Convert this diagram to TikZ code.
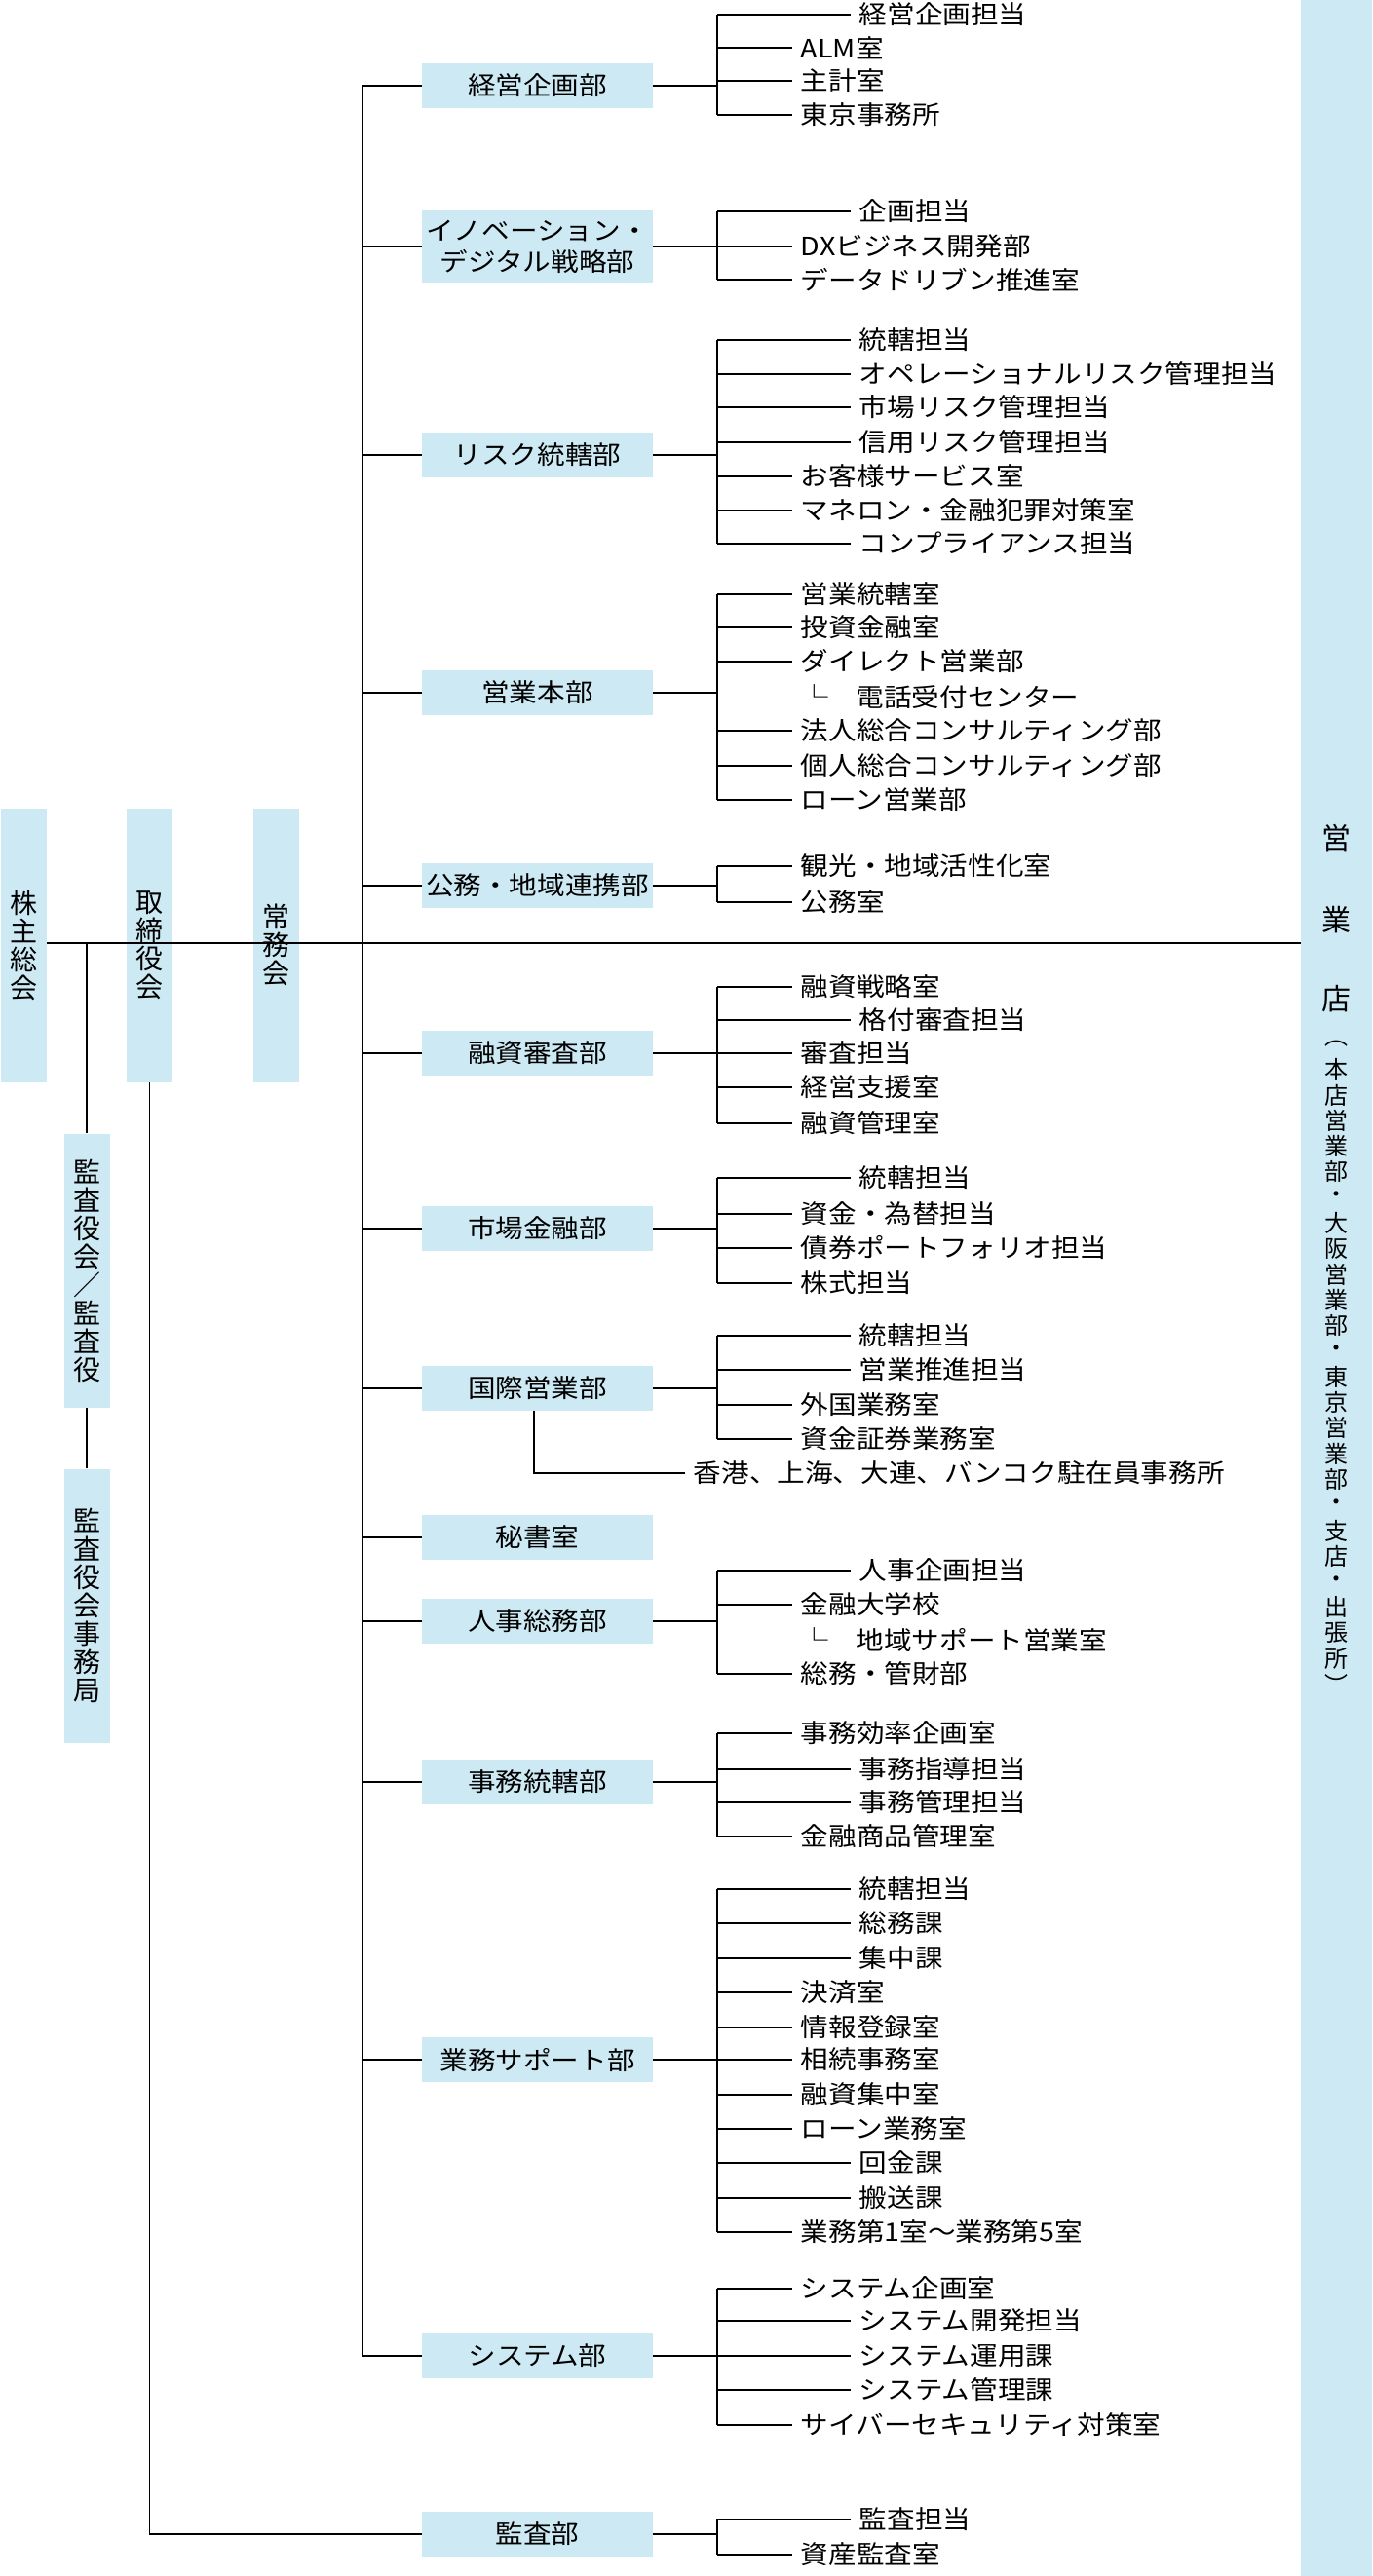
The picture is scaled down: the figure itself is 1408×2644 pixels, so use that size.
\documentclass[tikz,border=0pt]{standalone}
\usepackage{fontspec}
\setmainfont[FakeStretch=1.1]{Noto Sans CJK JP}
\newfontfamily\jpv{Noto Sans CJK JP}
\definecolor{boxblue}{HTML}{CDEAF4}
\tikzset{
  dept/.style={fill=boxblue, minimum width=118.5pt, minimum height=23pt, inner sep=0pt, align=center, font=\fontsize{13}{16}\selectfont},
  vbox/.style={fill=boxblue, minimum width=23.5pt, minimum height=140.5pt, inner sep=0pt},
  vtext/.style={align=center, inner sep=0pt, font=\jpv\fontsize{14}{14.5}\selectfont},
  item/.style={anchor=west, inner xsep=4pt, inner ysep=0pt, font=\fontsize{13}{15}\selectfont},
  conn/.style={line width=0.9pt}
}
% sub-units of one department: node, first y, last y, y/indent/text
\newcommand\branch[4]{%
  \draw[conn] (#1.east) -- (#1.east -| brk);
  \draw[conn] (brk |- 0,#2) -- (brk |- 0,#3);
  \foreach \y/\d/\t in {#4}{%
    \draw[conn] (brk |- 0,\y) -- ({813+60*\d},\y) node[item] {\t};
  }%
}
\begin{document}
\begin{tikzpicture}[x=0.5pt, y=-0.5pt]
    \useasboundingbox (0,0) rectangle (1408,2644);
    \coordinate (bus) at (372,0);
    \coordinate (brk) at (736,0);
    % top level
    \node[vbox] (kabu) at (24.5,970) {};
    \node[vtext] at (kabu) {株\\主\\総\\会};
    \node[vbox] (tori) at (153.5,970) {};
    \node[vtext] at (tori) {取\\締\\役\\会};
    \node[vbox] (jomu) at (283.5,970) {};
    \node[vtext] at (jomu) {常\\務\\会};
    \node[vbox] (kansayaku) at (89,1304) {};
    \node[vtext] at (kansayaku) {監\\査\\役\\会\\／\\監\\査\\役};
    \node[vbox] (kjimu) at (89,1648) {};
    \node[vtext] at (kjimu) {監\\査\\役\\会\\事\\務\\局};
    \node[fill=boxblue, minimum width=36.5pt, minimum height=1322pt, inner sep=0pt] (ten) at (1371.5,1322) {};
    \node[font=\jpv\fontsize{15}{15}\selectfont] at (1371.5,860) {営};
    \node[font=\jpv\fontsize{15}{15}\selectfont] at (1371.5,944) {業};
    \node[font=\jpv\fontsize{15}{15}\selectfont] at (1371.5,1025) {店};
    \foreach \c [count=\i] in {︵,本,店,営,業,部,・,大,阪,営,業,部,・,東,京,営,業,部,・,支,店,・,出,張,所,︶}
      \node[font=\jpv\fontsize{12}{12}\selectfont, inner sep=0pt] at (1371.5,{1045+26.3*\i}) {\c};
    \draw[conn] (kabu.east |- 0,968) -- (ten.west |- 0,968);
    \coordinate (k1) at (89,968);
    \draw[conn] (k1) -- (kansayaku.north);
    \draw[conn] (kansayaku.south) -- (kjimu.north);
    \draw[conn] (bus |- 0,88) -- (bus |- 0,2418);
    % departments
    \node[dept] (keiei) at (551.5,88) {経営企画部};
    \node[dept, minimum height=37pt] (inov) at (551.5,253) {イノベーション・\\デジタル戦略部};
    \node[dept] (risk) at (551.5,467) {リスク統轄部};
    \node[dept] (honbu) at (551.5,711) {営業本部};
    \node[dept] (komu) at (551.5,909) {公務・地域連携部};
    \node[dept] (yushi) at (551.5,1081) {融資審査部};
    \node[dept] (shijo) at (551.5,1261) {市場金融部};
    \node[dept] (kokusai) at (551.5,1425) {国際営業部};
    \node[dept] (hisho) at (551.5,1578) {秘書室};
    \node[dept] (jinji) at (551.5,1664) {人事総務部};
    \node[dept] (jimu) at (551.5,1829) {事務統轄部};
    \node[dept] (gyomu) at (551.5,2114) {業務サポート部};
    \node[dept] (system) at (551.5,2418) {システム部};
    \node[dept] (kansa) at (551.5,2601) {監査部};
    \foreach \n in {keiei,inov,risk,honbu,komu,yushi,shijo,kokusai,hisho,jinji,jimu,gyomu,system}
      \draw[conn] (\n.west -| bus) -- (\n.west);
    \draw[conn] (tori.south) -- (tori.south |- kansa.west) -- (kansa.west);
    % sub-units
    \branch{keiei}{15}{118}{15/1/経営企画担当, 49/0/ALM室, 83/0/主計室, 118/0/東京事務所}
    \branch{inov}{217}{287}{217/1/企画担当, 253/0/DXビジネス開発部, 287/0/データドリブン推進室}
    \branch{risk}{349}{558}{349/1/統轄担当, 384/1/オペレーショナルリスク管理担当, 418/1/市場リスク管理担当, 454/1/信用リスク管理担当, 489/0/お客様サービス室, 524/0/マネロン・金融犯罪対策室, 558/1/コンプライアンス担当}
    \branch{honbu}{610}{821}{610/0/営業統轄室, 644/0/投資金融室, 679/0/ダイレクト営業部, 750/0/法人総合コンサルティング部, 786/0/個人総合コンサルティング部, 821/0/ローン営業部}
    \node[item] (denwa) at (813,715) {└　電話受付センター};
    \branch{komu}{889}{926}{889/0/観光・地域活性化室, 926/0/公務室}
    \branch{yushi}{1013}{1153}{1013/0/融資戦略室, 1047/1/格付審査担当, 1081/0/審査担当, 1116/0/経営支援室, 1153/0/融資管理室}
    \branch{shijo}{1209}{1317}{1209/1/統轄担当, 1246/0/資金・為替担当, 1281/0/債券ポートフォリオ担当, 1317/0/株式担当}
    \branch{kokusai}{1371}{1477}{1371/1/統轄担当, 1406/1/営業推進担当, 1442/0/外国業務室, 1477/0/資金証券業務室}
    \draw[conn] (kokusai.south -| 548,0) -- (548,1512) -- (703,1512) node[item] (kaigai) {香港、上海、大連、バンコク駐在員事務所};
    \branch{jinji}{1612}{1718}{1612/1/人事企画担当, 1647/0/金融大学校, 1718/0/総務・管財部}
    \node[item] (chiiki) at (813,1683) {└　地域サポート営業室};
    \branch{jimu}{1779}{1885}{1779/0/事務効率企画室, 1816/1/事務指導担当, 1850/1/事務管理担当, 1885/0/金融商品管理室}
    \branch{gyomu}{1939}{2291}{1939/1/統轄担当, 1974/1/総務課, 2010/1/集中課, 2045/0/決済室, 2081/0/情報登録室, 2114/0/相続事務室, 2150/0/融資集中室, 2185/0/ローン業務室, 2220/1/回金課, 2256/1/搬送課, 2291/0/業務第1室～業務第5室}
    \branch{system}{2349}{2489}{2349/0/システム企画室, 2382/1/システム開発担当, 2418/1/システム運用課, 2453/1/システム管理課, 2489/0/サイバーセキュリティ対策室}
    \branch{kansa}{2586}{2622}{2586/1/監査担当, 2622/0/資産監査室}
\end{tikzpicture}
\end{document}
